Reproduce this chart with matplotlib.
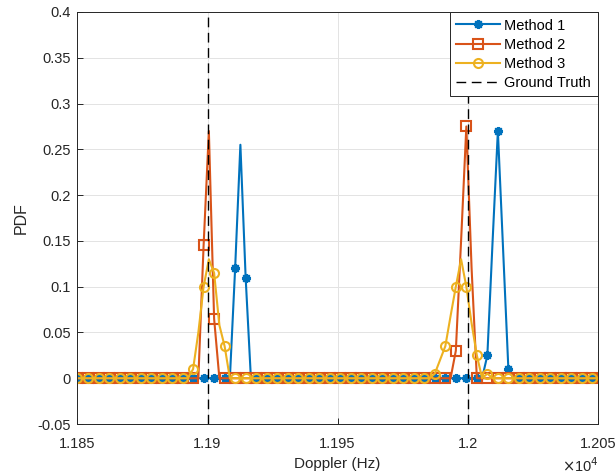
import numpy as np
import matplotlib
matplotlib.use('Agg')
import matplotlib.pyplot as plt
from matplotlib.ticker import FuncFormatter

plt.rcParams['font.family'] = ['Liberation Sans', 'DejaVu Sans']

# doppler grid (Hz): 100 samples, markers on every 2nd sample
doppler_start = 11850
doppler_stop = 12050
n_bins = 100
doppler = np.linspace(doppler_start, doppler_stop, n_bins)

# non-zero PDF values, keyed by bin index (all other bins are 0)
method1_peaks = {30: 0.12, 31: 0.255, 32: 0.11,
                 78: 0.025, 79: 0.15, 80: 0.27, 81: 0.14, 82: 0.01}
method2_peaks = {24: 0.145, 25: 0.27, 26: 0.065,
                 72: 0.03, 73: 0.15, 74: 0.275, 75: 0.12}
method3_peaks = {22: 0.01, 23: 0.05, 24: 0.1, 25: 0.13, 26: 0.115, 27: 0.058, 28: 0.035,
                 68: 0.005, 69: 0.02, 70: 0.035, 71: 0.068, 72: 0.1, 73: 0.13, 74: 0.1,
                 75: 0.06, 76: 0.025, 78: 0.005}
ground_truth = [11900, 12000]

labels = ['Method 1', 'Method 2', 'Method 3']
colors = ['#0072BD', '#D95319', '#EDB120']
markers = [(8, 2, 0), 's', 'o']


def to_series(peaks):
    vals = np.zeros(n_bins)
    for k, v in peaks.items():
        vals[k] = v
    return vals


series = [to_series(p) for p in (method1_peaks, method2_peaks, method3_peaks)]

fig = plt.figure(figsize=(6.16, 4.76), dpi=100)
ax = fig.add_axes([0.1258, 0.1092, 0.8445, 0.8656])

for vals, lab, col, mk in zip(series, labels, colors, markers):
    ax.plot(doppler, vals, color=col, lw=1.5, marker=mk, markevery=2,
            markersize=6.5, markerfacecolor='none', markeredgecolor=col,
            markeredgewidth=1.5, label=lab)

for i, gt in enumerate(ground_truth):
    ax.axvline(gt, color='black', lw=1.0, ls=(0, (7, 4)),
               label='Ground Truth' if i == 0 else None)

ax.set_xlim(doppler_start, doppler_stop)
ax.set_ylim(-0.05, 0.4)
ax.set_xticks(np.arange(11850, 12051, 50))
ax.set_yticks(np.arange(-0.05, 0.401, 0.05))
ax.xaxis.set_major_formatter(FuncFormatter(lambda v, p: '%g' % round(v / 1e4, 4)))
ax.yaxis.set_major_formatter(FuncFormatter(lambda v, p: '%g' % round(v, 3)))

ax.grid(True, color='#e3e3e3', lw=0.7)
ax.set_axisbelow(True)
ax.tick_params(direction='in', length=4, width=0.7, colors='#262626',
               labelsize=10.5, labelcolor='#262626', pad=5)
ax.tick_params(axis='x', pad=9)
for s in ax.spines.values():
    s.set_color('#262626')
    s.set_linewidth(0.7)

ax.set_xlabel('Doppler (Hz)', fontsize=11, color='#262626', labelpad=5)
ax.set_ylabel('PDF', fontsize=11.5, color='#262626', labelpad=6)
fig.text(0.972, 0.003, '$\\times$10$^{4}$', fontsize=10.5, color='#262626',
         ha='right', va='bottom')

leg = ax.legend(loc='upper right', bbox_to_anchor=(1, 1), borderaxespad=0,
                fontsize=10.5, handlelength=3.0, fancybox=False, framealpha=1,
                edgecolor='#262626', labelspacing=0.35, handletextpad=0.3,
                borderpad=0.45)
leg.get_frame().set_linewidth(0.7)

fig.savefig('out.png', dpi=100)
